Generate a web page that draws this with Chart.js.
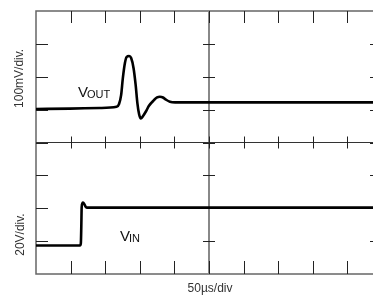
<!DOCTYPE html>
<html>
<head>
<meta charset="utf-8">
<script src="https://cdn.jsdelivr.net/npm/chart.js@4/dist/chart.umd.min.js"></script>
<style>
  html, body { margin:0; padding:0; background:#fff; overflow:hidden; }
  #wrap { width:392px; height:296px; position:relative; }
</style>
</head>
<body>
<div id="wrap"><canvas id="scope"></canvas></div>
<script>
// x in µs (50µs/div, 10 div), y in screen divisions (0 = bottom, 8 = top)
const xTicks = [0, 50, 100, 150, 200, 250, 300, 350, 400, 450, 500];
const yTicks = [0, 1, 2, 3, 4, 5, 6, 7, 8];

const voutTime = [0, 49, 92, 116.5, 120, 123, 125.5, 128.5, 131, 134.5, 137.5, 141, 144, 146.5, 149, 151.5, 154.5, 159, 163, 170.5, 175, 179, 183.5, 188, 193.5, 201, 500];
const voutDiv  = [5.02, 5.03, 5.05, 5.085, 5.17, 5.44, 5.96, 6.42, 6.60, 6.63, 6.57, 6.26, 5.75, 5.20, 4.86, 4.73, 4.80, 4.95, 5.11, 5.29, 5.37, 5.39, 5.37, 5.30, 5.24, 5.22, 5.22];

const vinTime = [0, 63.5, 64.8, 65.5, 66, 67, 68, 69.5, 71.5, 73.5, 500];
const vinDiv  = [0.865, 0.865, 0.93, 1.48, 2.03, 2.15, 2.17, 2.14, 2.05, 2.02, 2.02];

function pts(xs, ys){ return xs.map((x,i)=>({x:x, y:ys[i]})); }

const scopeGrid = {
  id:'scopeGrid',
  beforeDatasetsDraw(chart){
    const ctx = chart.ctx, a = chart.chartArea;
    const xs = chart.scales.x, ys = chart.scales.y;
    const cx = xs.getPixelForValue(250), cy = ys.getPixelForValue(4);
    ctx.save();
    // frame
    ctx.strokeStyle = '#666'; ctx.lineWidth = 1.5;
    ctx.strokeRect(a.left, a.top, a.right - a.left, a.bottom - a.top);
    // centre axes
    ctx.strokeStyle = '#888'; ctx.lineWidth = 2;
    ctx.beginPath(); ctx.moveTo(cx, a.top); ctx.lineTo(cx, a.bottom); ctx.stroke();
    ctx.strokeStyle = '#333'; ctx.lineWidth = 1.2;
    ctx.beginPath(); ctx.moveTo(a.left, cy); ctx.lineTo(a.right, cy); ctx.stroke();
    // ticks
    ctx.strokeStyle = '#222'; ctx.lineWidth = 1;
    ctx.beginPath();
    xTicks.slice(1, -1).forEach(v => {
      const px = Math.round(xs.getPixelForValue(v)) + 0.5;
      ctx.moveTo(px, a.top); ctx.lineTo(px, a.top + 12);
      ctx.moveTo(px, a.bottom); ctx.lineTo(px, a.bottom - 13);
      ctx.moveTo(px, cy - 6); ctx.lineTo(px, cy + 6);
    });
    yTicks.slice(1, -1).forEach(v => {
      const py = Math.round(ys.getPixelForValue(v)) + 0.5;
      ctx.moveTo(a.left, py); ctx.lineTo(a.left + 12, py);
      ctx.moveTo(a.right, py); ctx.lineTo(a.right - 12, py);
      ctx.moveTo(cx - 6, py); ctx.lineTo(cx + 6, py);
    });
    ctx.stroke();
    ctx.restore();
  },
  afterDraw(chart){
    const ctx = chart.ctx;
    const xs = chart.scales.x, ys = chart.scales.y;
    ctx.save();
    ctx.fillStyle = '#333';
    ctx.font = '12px "Liberation Sans", Arial, sans-serif';
    ctx.textAlign = 'center'; ctx.textBaseline = 'middle';
    // axis scale labels
    ctx.save(); ctx.translate(20, ys.getPixelForValue(5.95)); ctx.rotate(-Math.PI/2);
    ctx.fillText('100mV/div.', 0, 0); ctx.restore();
    ctx.save(); ctx.translate(21, ys.getPixelForValue(1.2)); ctx.rotate(-Math.PI/2);
    ctx.fillText('20V/div.', 0, 0); ctx.restore();
    ctx.fillText('50\u00b5s/div', xs.getPixelForValue(250) + 1, 289);
    // trace labels
    ctx.fillStyle = '#111';
    ctx.textAlign = 'left'; ctx.textBaseline = 'alphabetic';
    function sub(main, s, x, y){
      ctx.font = '15px "Liberation Sans", Arial, sans-serif';
      ctx.fillText(main, x, y);
      const w = ctx.measureText(main).width;
      ctx.font = '11px "Liberation Sans", Arial, sans-serif';
      ctx.fillText(s, x + w - 1, y + 1);
    }
    sub('V', 'OUT', 78, 97);
    sub('V', 'IN', 120, 241);
    ctx.restore();
  }
};

new Chart(document.getElementById('scope'), {
  type: 'scatter',
  data: {
    datasets: [
      { label:'VOUT', data: pts(voutTime, voutDiv), showLine:true, borderColor:'#000', borderWidth:2.6, pointRadius:0, cubicInterpolationMode:'monotone' },
      { label:'VIN', data: pts(vinTime, vinDiv), showLine:true, borderColor:'#000', borderWidth:2.6, pointRadius:0, cubicInterpolationMode:'monotone' }
    ]
  },
  options: {
    responsive:true, maintainAspectRatio:false, animation:false,
    layout:{ padding:{ left:36, top:11, right:10, bottom:22 } },
    plugins:{ legend:{ display:false }, tooltip:{ enabled:false } },
    scales:{
      x:{ type:'linear', min:0, max:500, display:false },
      y:{ type:'linear', min:0, max:8, display:false }
    }
  },
  plugins:[scopeGrid]
});
</script>
</body>
</html>
